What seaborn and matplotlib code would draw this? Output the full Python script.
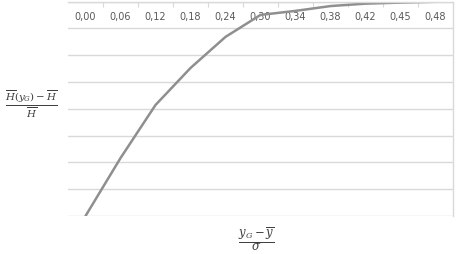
import matplotlib
matplotlib.use("Agg")
import matplotlib.pyplot as plt
import seaborn as sns
import numpy as np
import pandas as pd

categories = ["0,00", "0,06", "0,12", "0,18", "0,24", "0,30", "0,34", "0,38", "0,42", "0,45", "0,48"]
values = [-8.0, -5.84, -3.86, -2.48, -1.32, -0.50, -0.35, -0.17, -0.08, -0.04, -0.01]

sns.set_theme(style="white")
plt.rcParams['font.family'] = ['DejaVu Sans']
plt.rcParams['mathtext.fontset'] = 'dejavuserif'

fig = plt.figure(figsize=(4.63, 2.54), dpi=100)
ax = fig.add_axes([68/463, 1 - 216/254, (453-68)/463, (216-1.5)/254])

df = pd.DataFrame({"x": categories, "y": values})
sns.lineplot(data=df, x="x", y="y", sort=False, ax=ax, color="#8f8f8f", linewidth=1.8)

ax.set_xlim(-0.5, len(categories) - 0.5)
ax.set_ylim(-8, 0)
ax.set_yticks(np.arange(-8, 1, 1))
ax.set_yticklabels([])
ax.tick_params(axis='y', length=0)
ax.grid(axis='y', color='#d9d9d9', linewidth=1)
ax.grid(axis='x', visible=False)

ax.set_xticks(range(len(categories)))
ax.set_xticklabels(categories)
ax.set_xticks(np.arange(0.5, len(categories) - 0.5, 1), minor=True)
ax.xaxis.set_ticks_position('top')
ax.tick_params(axis='x', which='major', length=0, labeltop=True, labelbottom=False,
               pad=-11, labelsize=7, labelcolor='#595959')
ax.tick_params(axis='x', which='minor', top=True, bottom=False, direction='in',
               length=3.5, color='#d9d9d9', width=0.8)
for lbl in ax.get_xticklabels():
    lbl.set_va('center')

ax.set_xlabel("")
ax.set_ylabel("")
for s in ['left', 'bottom']:
    ax.spines[s].set_visible(False)
ax.spines['top'].set_color('#d9d9d9')
ax.spines['right'].set_color('#d9d9d9')
ax.spines['top'].set_linewidth(1)
ax.spines['right'].set_linewidth(1)

fig.text(31/463, 1 - 104/254, r'$\frac{\overline{H}(y_G)-\overline{H}}{\overline{H}}$',
         ha='center', va='center', fontsize=10.5, color='#404040')
fig.text(256/463, 1 - 239/254, r'$\frac{y_G-\overline{y}}{\sigma}$',
         ha='center', va='center', fontsize=12, color='#404040')

fig.savefig("out.png", dpi=100)
